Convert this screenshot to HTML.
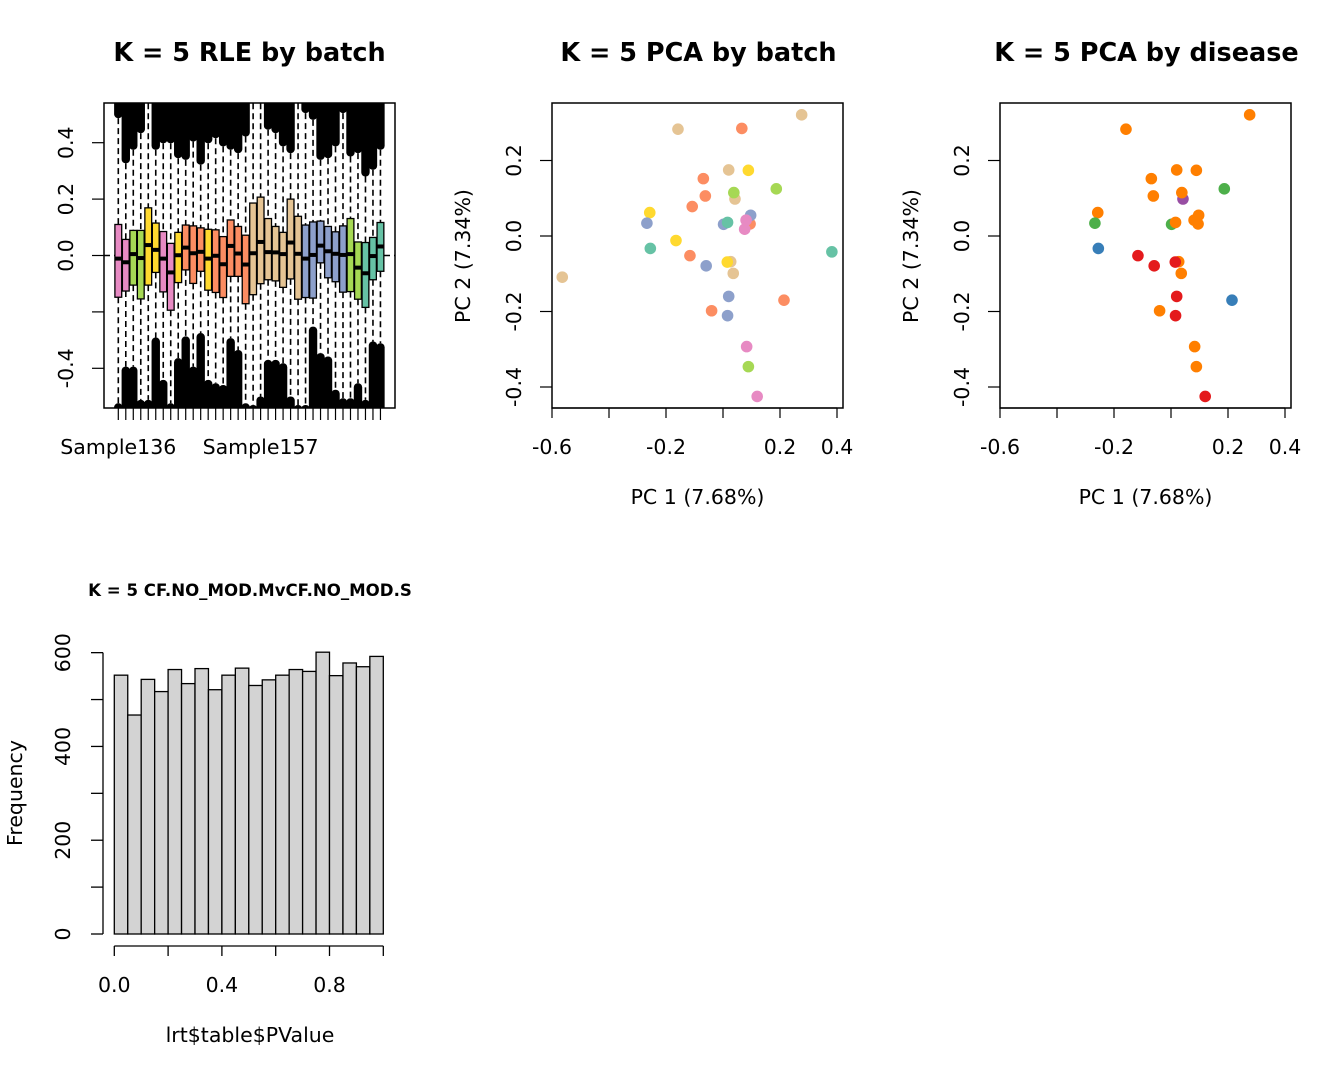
<!DOCTYPE html>
<html><head><meta charset="utf-8">
<style>
html,body{margin:0;padding:0;background:#fff;}
svg{display:block;font-family:"DejaVu Sans","Liberation Sans",sans-serif;}
</style></head>
<body>
<svg id="chart" width="1344" height="1075" viewBox="0 0 1344 1075" xmlns="http://www.w3.org/2000/svg"></svg>
<script>
// ---------- RLE data ----------
const rleXLabelIdx = [0, 19];
const rleXLabels = ['Sample136', 'Sample157'];
const rleBatch = ['pink','pink','green','green','yellow','yellow','pink','pink','yellow','orange','orange','orange','yellow','orange','orange','orange','orange','orange','beige','beige','beige','beige','beige','beige','beige','blue','blue','blue','blue','blue','blue','green','green','teal','teal','teal'];
const rleQ3 = [0.110,0.057,0.089,0.089,0.169,0.115,0.085,0.043,0.082,0.108,0.105,0.098,0.093,0.091,0.067,0.126,0.103,0.072,0.186,0.207,0.131,0.103,0.082,0.200,0.139,0.108,0.119,0.122,0.103,0.084,0.105,0.131,0.048,0.046,0.064,0.117];
const rleQ1 = [-0.148,-0.126,-0.105,-0.154,-0.105,-0.060,-0.129,-0.194,-0.096,-0.051,-0.099,-0.056,-0.123,-0.131,-0.149,-0.074,-0.074,-0.171,-0.139,-0.100,-0.086,-0.090,-0.113,-0.083,-0.155,-0.149,-0.151,-0.026,-0.079,-0.093,-0.130,-0.128,-0.155,-0.184,-0.086,-0.056];
const rleMed = [-0.011,-0.024,0.005,-0.009,0.037,0.020,-0.011,-0.060,0.001,0.028,0.008,0.013,-0.011,-0.001,-0.031,0.034,0.007,-0.032,0.008,0.048,0.012,0.011,0.005,0.046,0.006,-0.011,0.002,0.035,0.015,0.006,0.002,0.005,-0.043,-0.063,-0.002,0.032];
const rleUpper = [0.487,0.327,0.375,0.434,0.54,0.375,0.398,0.398,0.345,0.339,0.404,0.322,0.398,0.416,0.387,0.375,0.363,0.422,0.54,0.54,0.446,0.434,0.387,0.363,0.54,0.505,0.481,0.339,0.345,0.387,0.505,0.351,0.363,0.280,0.304,0.375];
const rleLower = [-0.524,-0.394,-0.394,-0.512,-0.512,-0.291,-0.441,-0.524,-0.364,-0.287,-0.394,-0.275,-0.441,-0.453,-0.459,-0.293,-0.335,-0.524,-0.530,-0.500,-0.370,-0.370,-0.382,-0.500,-0.530,-0.530,-0.252,-0.346,-0.358,-0.476,-0.506,-0.506,-0.453,-0.512,-0.305,-0.311];
const rleYTicks = [-0.4,-0.2,0.0,0.2,0.4];
const rleYLabels = ['-0.4','','0.0','0.2','0.4'];

// ---------- PCA data ----------
const pcaX = [0.276,-0.158,0.020,0.042,-0.564,0.027,0.036, 0.066,-0.069,-0.062,-0.108,0.095,-0.116,-0.040,0.214, 0.089,-0.257,-0.165,0.015, 0.038,0.187,0.089, 0.097,0.002,-0.267,-0.059,0.020,0.016, 0.016,-0.255,0.382, 0.081,0.076,0.083,0.120];
const pcaY = [0.321,0.283,0.175,0.098,-0.109,-0.068,-0.099, 0.285,0.152,0.106,0.078,0.032,-0.052,-0.198,-0.170, 0.174,0.062,-0.012,-0.069, 0.115,0.125,-0.346, 0.055,0.031,0.034,-0.079,-0.160,-0.211, 0.036,-0.033,-0.042, 0.042,0.018,-0.293,-0.425];
const pcaBatch = ['beige','beige','beige','beige','beige','beige','beige','orange','orange','orange','orange','orange','orange','orange','orange','yellow','yellow','yellow','yellow','green','green','green','blue','blue','blue','blue','blue','blue','teal','teal','teal','pink','pink','pink','pink'];
const pcaDisease = ['o','o','o','p','NA','o','o','NA','o','o','NA','o','r','o','b','o','o','NA','r','o','g','o','o','g','g','r','r','r','o','b','NA','o','NA','o','r'];
const pcaXTicks = [-0.6,-0.4,-0.2,0.0,0.2,0.4];
const pcaXLabels = ['-0.6','','-0.2','','0.2','0.4'];
const pcaYTicks = [-0.4,-0.2,0.0,0.2];
const pcaYLabels = ['-0.4','-0.2','0.0','0.2'];

// ---------- Histogram data ----------
const histBreaks = [0,0.05,0.1,0.15,0.2,0.25,0.3,0.35,0.4,0.45,0.5,0.55,0.6,0.65,0.7,0.75,0.8,0.85,0.9,0.95,1.0];
const histCounts = [552,467,543,517,564,534,566,521,552,567,530,542,552,564,560,601,551,578,570,592];
const histXTicks = [0,0.2,0.4,0.6,0.8,1.0];
const histXLabels = ['0.0','','0.4','','0.8',''];
const histYTicks = [0,100,200,300,400,500,600];
const histYLabels = ['0','','200','','400','','600'];

const batchColors = {pink:'#E78AC3',green:'#A6D854',yellow:'#FFD92F',orange:'#FC8D62',beige:'#E5C494',blue:'#8DA0CB',teal:'#66C2A5'};
const diseaseColors = {o:'#FF7F00',g:'#4DAF4A',b:'#377EB8',r:'#E41A1C',p:'#984EA3'};

const FS = 20.5, TS = 25.5;
const svg = document.getElementById('chart');
const NS = 'http://www.w3.org/2000/svg';
function mk(tag, attrs, parent){
  const e = document.createElementNS(NS, tag);
  for (const k in attrs) e.setAttribute(k, attrs[k]);
  (parent||svg).appendChild(e);
  return e;
}
function txt(s, x, y, size, opts, parent){
  const e = mk('text', Object.assign({x:x, y:y, 'font-size':size, 'text-anchor':'middle', fill:'#000'}, opts||{}), parent);
  e.textContent = s;
  return e;
}

// ================= Panel 1: RLE =================
(function(){
  const g = mk('g', {});
  
  
  const L=104,R=395,T=103,B=408;
  const sy = v => 255.5 - v*282;
  const sx = i => 118.3 + i*7.49;
  const defs = mk('defs',{},g);
  const cp = mk('clipPath',{id:'clip1'},defs);
  mk('rect',{x:L,y:T,width:R-L,height:B-T},cp);
  const inner = mk('g',{'clip-path':'url(#clip1)'},g);
  const n = rleQ3.length;
  for (let i=0;i<n;i++){
    const x = sx(i);
    const ub = mk('rect',{x:x-4.2,y:T-10,width:8.4,height:sy(rleUpper[i])-(T-10),fill:'#000',rx:4},inner);
    
    
    const lb = mk('rect',{x:x-4.2,y:sy(rleLower[i]),width:8.4,height:(B+10)-sy(rleLower[i]),fill:'#000',rx:4},inner);
    
    
  }
  for (let i=0;i<n;i++){
    const x = sx(i);
    const w1 = mk('line',{x1:x,x2:x,y1:sy(rleUpper[i]),y2:sy(rleQ3[i]),stroke:'#000','stroke-width':1.6,'stroke-dasharray':'6,4'},inner);
    
    
    const w2 = mk('line',{x1:x,x2:x,y1:sy(rleQ1[i]),y2:sy(rleLower[i]),stroke:'#000','stroke-width':1.6,'stroke-dasharray':'6,4'},inner);
    
    
  }
  const zl = mk('line',{x1:L,x2:R,y1:sy(0),y2:sy(0),stroke:'#000','stroke-width':1.6,'stroke-dasharray':'6,4'},inner);
  
  
  for (let i=0;i<n;i++){
    const x = sx(i);
    const b = mk('rect',{x:x-3.4,y:sy(rleQ3[i]),width:6.8,height:sy(rleQ1[i])-sy(rleQ3[i]),fill:batchColors[rleBatch[i]],stroke:'#000','stroke-width':1.3},inner);
    
    
    const m = mk('line',{x1:x-3.6,x2:x+3.6,y1:sy(rleMed[i]),y2:sy(rleMed[i]),stroke:'#000','stroke-width':4},inner);
    
    
  }
  const fr = mk('rect',{x:L,y:T,width:R-L,height:B-T,fill:'none',stroke:'#000','stroke-width':1.5},g);
  
  
  for (let i=0;i<n;i++){
    mk('line',{x1:sx(i),x2:sx(i),y1:B,y2:B+12,stroke:'#000','stroke-width':1.2},g);
  }
  rleXLabelIdx.forEach((idx,k)=>{
    const l = txt(rleXLabels[k], sx(idx), 454, FS, {}, g);
    
    
  });
  rleYTicks.forEach((v,i)=>{
    mk('line',{x1:L-12,x2:L,y1:sy(v),y2:sy(v),stroke:'#000','stroke-width':1.2},g);
    if (rleYLabels[i]) {
      const t = txt(rleYLabels[i], 0, 0, FS, {transform:`translate(${L-37},${sy(v)}) rotate(-90)`,'dominant-baseline':'middle'}, g);
      
      
    }
  });
  const ti = txt('K = 5 RLE by batch', 249.5, 61, TS, {'font-weight':'bold'}, g);
  
  
})();

// ================= Panels 2/3: PCA =================
function pcaPanel(L, title, colorFn, name){
  const g = mk('g', {});
  
  
  const R=L+291,T=103,B=408;
  const x0 = L+171, y0 = 236;
  const sx = v => x0 + v*285;
  const sy = v => y0 - v*377.5;
  const fr = mk('rect',{x:L,y:T,width:R-L,height:B-T,fill:'none',stroke:'#000','stroke-width':1.5},g);
  
  
  for (let i=0;i<pcaX.length;i++){
    const c = colorFn(i);
    if (!c) continue;
    const p = mk('circle',{cx:sx(pcaX[i]),cy:sy(pcaY[i]),r:5.8,fill:c},g);
    
    
  }
  pcaXTicks.forEach((v,i)=>{
    mk('line',{x1:sx(v),x2:sx(v),y1:B,y2:B+10,stroke:'#000','stroke-width':1.2},g);
    if (pcaXLabels[i]){
      const t = txt(pcaXLabels[i], sx(v), 454, FS, {}, g);
      
      
    }
  });
  mk('line',{x1:sx(-0.6),x2:sx(0.4),y1:B,y2:B,stroke:'#000','stroke-width':1.2},g);
  pcaYTicks.forEach((v,i)=>{
    mk('line',{x1:L-12,x2:L,y1:sy(v),y2:sy(v),stroke:'#000','stroke-width':1.2},g);
    const t = txt(pcaYLabels[i], 0, 0, FS, {transform:`translate(${L-37},${sy(v)}) rotate(-90)`,'dominant-baseline':'middle'}, g);
    
    
  });
  const xt = txt('PC 1 (7.68%)', (L+R)/2, 504, FS, {}, g);
  
  
  const yt = txt('PC 2 (7.34%)', 0, 0, FS, {transform:`translate(${L-88},256) rotate(-90)`,'dominant-baseline':'middle'}, g);
  
  
  const ti = txt(title, (L+R)/2+1, 61, TS, {'font-weight':'bold'}, g);
  
  
}
pcaPanel(552, 'K = 5 PCA by batch', i => batchColors[pcaBatch[i]], 'pca-batch-panel');
pcaPanel(1000, 'K = 5 PCA by disease', i => diseaseColors[pcaDisease[i]], 'pca-disease-panel');

// ================= Panel 4: Histogram =================
(function(){
  const g = mk('g', {});
  
  
  const sx = v => 114.3 + v*269;
  const sy = v => 934 - v*0.4689;
  for (let i=0;i<histCounts.length;i++){
    const b = mk('rect',{x:sx(histBreaks[i]),y:sy(histCounts[i]),width:sx(histBreaks[i+1])-sx(histBreaks[i]),height:sy(0)-sy(histCounts[i]),fill:'#D3D3D3',stroke:'#000','stroke-width':1.3},g);
    
    
  }
  const xa = mk('line',{x1:sx(0),x2:sx(1),y1:946,y2:946,stroke:'#000','stroke-width':1.3},g);
  
  
  histXTicks.forEach((v,i)=>{
    mk('line',{x1:sx(v),x2:sx(v),y1:946,y2:956,stroke:'#000','stroke-width':1.3},g);
    if (histXLabels[i]){
      const t = txt(histXLabels[i], sx(v), 992, FS, {}, g);
      
      
    }
  });
  const ya = mk('line',{x1:103,x2:103,y1:sy(0),y2:sy(600),stroke:'#000','stroke-width':1.3},g);
  
  
  histYTicks.forEach((v,i)=>{
    mk('line',{x1:91,x2:103,y1:sy(v),y2:sy(v),stroke:'#000','stroke-width':1.3},g);
    if (histYLabels[i]){
      const t = txt(histYLabels[i], 0, 0, FS, {transform:`translate(64,${sy(v)}) rotate(-90)`,'dominant-baseline':'middle'}, g);
      
      
    }
  });
  const xt = txt('lrt$table$PValue', 250, 1042, FS, {}, g);
  
  
  const yt = txt('Frequency', 0, 0, FS, {transform:'translate(16,793) rotate(-90)','dominant-baseline':'middle'}, g);
  
  
  const ti = txt('K = 5 CF.NO_MOD.MvCF.NO_MOD.S', 250, 596, 16.6, {'font-weight':'bold'}, g);
  
  
})();
</script>
</body></html>
